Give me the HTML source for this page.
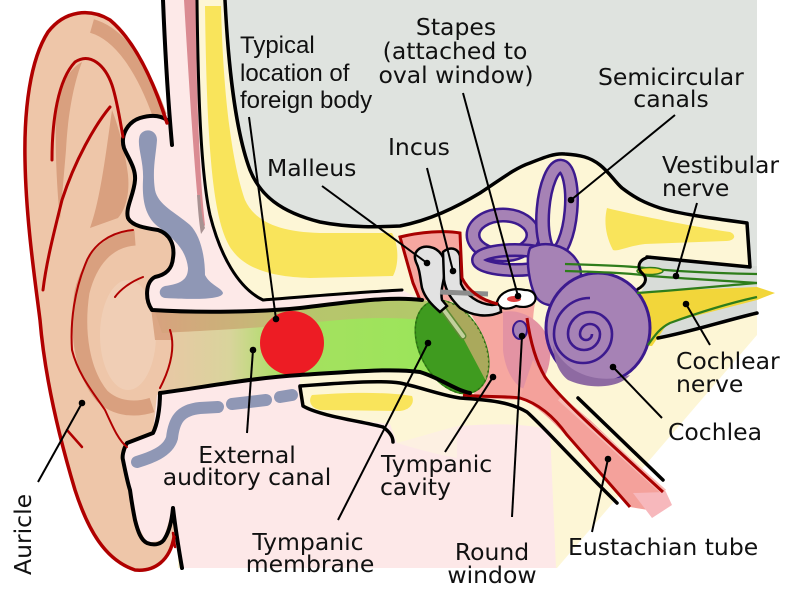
<!DOCTYPE html>
<html><head><meta charset="utf-8"><style>
html,body{margin:0;padding:0;background:#fff}
svg{display:block}
text{font-family:"DejaVu Sans","Liberation Sans",sans-serif;font-size:23.5px;fill:#111}
.s{font-family:"Liberation Sans",Arial,sans-serif;font-size:24px}
</style></head><body>
<svg width="788" height="599" viewBox="0 0 788 599" xmlns="http://www.w3.org/2000/svg">
<defs>
<linearGradient id="cg" gradientUnits="userSpaceOnUse" x1="155" y1="0" x2="430" y2="0">
<stop offset="0" stop-color="#eac6a6"/><stop offset="0.27" stop-color="#d9d49c"/><stop offset="0.47" stop-color="#a6e060"/><stop offset="1" stop-color="#9be55a"/>
</linearGradient>
<linearGradient id="cb" gradientUnits="userSpaceOnUse" x1="155" y1="0" x2="430" y2="0">
<stop offset="0" stop-color="#d7a27e"/><stop offset="0.35" stop-color="#c8b678"/><stop offset="0.55" stop-color="#b7c56c"/><stop offset="1" stop-color="#b2c86a"/>
</linearGradient>
<clipPath id="tm"><ellipse cx="452" cy="347" rx="32" ry="50" transform="rotate(-28 452 347)"/></clipPath>
</defs>

<path d="M178,0 L757,0 L757,335 L557,568 L178,568 Z" fill="#fdf6d6"/>

<path d="M225,0 L757,0 L757,266 L750,266 L747,223 C710,218 680,214 660,208 C645,203 635,198 622,188 C615,182 610,173 600,165 C590,157 580,155 565,154 C555,153 545,157 530,163 C515,168 500,180 480,193 C455,208 430,220 400,226 C380,227 350,228 320,222 C280,212 260,195 250,170 C235,130 228,60 225,0 Z" fill="#dfe3df"/>

<path d="M645,257 L750,266 L757,266 L757,313 L663,338 C652,333 642,318 640,300 C639,292 646,286 645,280 C638,274 636,262 645,257 Z" fill="#d8dcd8"/>

<path d="M205,6 L221,6 C223,90 231,160 245,200 C255,222 280,232 320,233 L392,233 C399,245 399,265 393,276 L310,278 C270,277 245,268 232,250 C214,225 207,160 205,6 Z" fill="#f9e45b"/>
<path d="M607,208 C630,214 690,226 730,232 C737,235 735,241 726,241 L645,244 C628,246 617,252 613,250 C605,235 604,220 607,208 Z" fill="#f9e45b"/>

<path d="M167,123 C158,95 140,45 110,20 C90,8 65,10 48,32 C30,60 24,110 25,160 C26,220 35,280 40,320 C45,380 60,440 75,490 C88,530 105,560 135,570 C155,572 170,560 174,537 L180,537 L180,123 Z" fill="#eec6a9"/>
<path d="M92,26 C120,34 143,68 160,116" fill="none" stroke="#d9a07f" stroke-width="14"/>
<path d="M56,105 C60,85 70,68 82,62 C75,80 68,110 66,150 L60,220 C56,180 55,140 56,105 Z" fill="#d9a07f"/>
<path d="M112,110 C118,125 125,150 128,175 C130,195 125,210 118,218 L90,228 C100,200 105,160 112,110 Z" fill="#d9a07f"/>
<path d="M135,238 C108,240 90,260 82,292 C76,332 82,372 102,396 C117,410 137,410 152,405" fill="none" stroke="#d9a07f" stroke-width="15"/>
<ellipse cx="128" cy="335" rx="28" ry="55" fill="#f0ceb5"/>
<path d="M150,300 L178,300 L178,340 L155,340 Z" fill="#dba684"/>

<path d="M163,0 L197,0 C198,80 200,170 210,215 C220,255 238,288 263,300 L400,289 L420,299 L300,308 L155,312 C145,300 145,282 155,277 C165,275 172,270 173,258 C175,245 170,234 158,230 C145,228 132,226 128,218 C125,208 134,195 135,180 C136,168 128,158 124,148 C120,135 128,122 140,118 C150,115 160,115 167,120 L163,0 Z" fill="#fde9e8"/>
<path d="M184,0 L196,0 C196,80 199,170 205,225 L201,232 C195,180 190,100 184,0 Z" fill="#da8b92"/>
<path d="M200,195 C201,210 203,222 205,228 L201,234 C199,222 198,210 197,195 Z" fill="#a89292"/>
<path d="M140,135 C145,127 157,130 157,140 C156,155 152,170 155,190 C158,205 175,212 190,225 C200,235 205,255 205,275 C210,285 222,288 223,293 C222,299 200,300 165,298 C158,297 158,288 165,286 C180,284 188,280 188,268 C186,250 175,240 160,228 C145,218 142,200 143,180 C144,160 136,145 140,135 Z" fill="#8f97b5"/>

<path d="M157,395 L160,393 C200,388 250,378 300,375 L300,387 L303,406 C320,416 360,421 390,424 L397,443 C420,440 440,430 460,426 C500,423 530,424 550,430 L556,568 L182,568 L177,537 L173,508 L163,540 L147,543 L135,520 L130,487 L123,457 L127,443 L153,433 Z" fill="#fde8e8"/>
<path d="M397,443 C420,450 440,455 457,458 L457,426 Z" fill="#fdf0e2"/>
<path d="M137,462 C150,458 168,452 172,438 C174,420 180,410 200,408 L218,407 M232,404 L266,400 M280,397 L292,395" fill="none" stroke="#8f97b5" stroke-width="12" stroke-linecap="round"/>
<path d="M312,395 C340,393 380,391 412,396 C415,403 410,410 400,411 L320,410 C310,408 308,400 312,395 Z" fill="#f9e45b"/>

<path d="M155,312 C200,313 260,312 300,308 C350,302 390,296 420,299 L440,305 L440,375 C400,368 360,371 300,374 C250,378 200,388 160,393 C168,370 174,345 170,330 Z" fill="url(#cg)"/>
<path d="M155,312 C200,313 260,312 300,308 C350,302 390,296 420,299 L440,305 L440,322 C390,315 350,318 300,324 C260,328 200,331 162,333 Z" fill="url(#cb)"/>
<circle cx="292" cy="343" r="32" fill="#ed1c24"/>

<path d="M400,237 C420,232 445,230 460,233 L462,278 C468,290 480,300 498,304 L535,303 C531,325 532,350 545,377 L520,400 L473,398 C478,380 485,360 487,347 C480,330 470,310 462,302 L420,300 Z" fill="#f6a7a0"/>
<path d="M503,312 C520,308 545,320 550,345 C552,365 545,385 530,390 C515,390 505,370 503,350 Z" fill="#e393a3"/>
<path d="M520,398 L533,360 C545,380 560,395 590,420 L666,492 L660,512 L630,507 L567,437 C550,418 535,405 520,398 Z" fill="#f4a19b"/>
<path d="M560,398 C590,425 630,462 664,492" fill="none" stroke="#f7bcb6" stroke-width="6"/>
<path d="M633,493 L666,492 L672,505 L652,518 Z" fill="#f7b8bc"/>

<g fill="none">
<ellipse cx="503" cy="235" rx="30" ry="20" stroke="#3c1a8e" stroke-width="15"/>
<ellipse cx="503" cy="235" rx="30" ry="20" stroke="#a682b5" stroke-width="10"/>
<ellipse cx="557" cy="210" rx="14" ry="44" transform="rotate(5 557 210)" stroke="#3c1a8e" stroke-width="15"/>
<ellipse cx="557" cy="210" rx="14" ry="44" transform="rotate(5 557 210)" stroke="#a682b5" stroke-width="10"/>
<ellipse cx="515" cy="260" rx="37" ry="10" stroke="#3c1a8e" stroke-width="14"/>
<ellipse cx="515" cy="260" rx="37" ry="10" stroke="#a682b5" stroke-width="9"/>
</g>
<path d="M530,248 C545,240 565,245 575,258 C585,270 582,290 570,300 C555,310 540,305 535,295 C530,285 525,260 530,248 Z" fill="#a682b5" stroke="#3c1a8e" stroke-width="2.5"/>

<path d="M632,292 L757,287 L775,293 L757,300 L668,323 L652,346 L628,345 Z" fill="#f2d63a"/>
<ellipse cx="598" cy="328" rx="52" ry="55" fill="#a682b5" stroke="#3c1a8e" stroke-width="3"/>
<path d="M553,345 C565,375 600,385 630,375 C620,388 590,390 568,380 C558,372 554,360 553,345 Z" fill="#8e6aa2"/>
<path d="M592,334 A6,6 0 1 1 580,334 A10,10 0 1 1 600,334 A16,16 0 1 1 568,334 A22,22 0 1 1 612,334 A29,29 0 1 1 554,334 A36,36 0 0 1 590,298" fill="none" stroke="#3c1a8e" stroke-width="2.6"/>
<ellipse cx="520" cy="330" rx="7" ry="9" fill="#a682b5" stroke="#3c1a8e" stroke-width="2"/>

<g fill="none" stroke="#2e7d1b" stroke-width="2.2">
<path d="M565,264 C600,265 630,266 645,268 C660,270 700,273 757,274"/>
<path d="M565,271 C600,272 630,273 650,276 C690,279 730,281 757,283"/>
<path d="M637,293 C680,290 720,286 757,283"/>
<path d="M648,345 C655,335 660,328 670,323 C700,312 730,303 757,297"/>
</g>
<ellipse cx="650" cy="271" rx="13" ry="3.5" fill="#f2d63a" stroke="#2e7d1b" stroke-width="1.5"/>

<ellipse cx="452" cy="347" rx="32" ry="50" transform="rotate(-28 452 347)" fill="#3f9b1f" stroke="#2f8a15" stroke-width="1.5"/>
<g clip-path="url(#tm)"><rect x="466" y="280" width="60" height="140" fill="#aaa95c" transform="rotate(-28 452 347)"/></g>
<ellipse cx="452" cy="347" rx="32" ry="50" transform="rotate(-28 452 347)" fill="none" stroke="#2f6a15" stroke-width="1.5" stroke-dasharray="2 3"/>

<path d="M438,302 L463,336" stroke="#5f8a35" stroke-width="7" stroke-linecap="round"/>
<path d="M438,302 L463,336" stroke="#c2d09c" stroke-width="4" stroke-linecap="round"/>
<path d="M416,262 C412,252 420,245 430,247 C440,249 446,258 445,270 C444,282 440,290 442,300 L447,306 L440,312 C432,305 425,298 422,288 C420,278 420,270 416,262 Z" fill="#e2e2e2" stroke="#000" stroke-width="2.5"/>
<path d="M443,252 C450,246 458,248 460,256 L461,284 C466,295 478,304 492,305 L500,304 L501,312 C488,318 472,316 460,308 C452,300 446,292 444,280 Z" fill="#e2e2e2" stroke="#000" stroke-width="2.5"/>
<path d="M440,292 L488,294" stroke="#8c8c8c" stroke-width="5"/>
<path d="M497,302 C500,292 512,287 525,290 C533,290 537,295 535,301 C532,307 524,308 516,306 C508,310 500,310 497,302 Z" fill="#fff" stroke="#000" stroke-width="2.2"/>
<ellipse cx="514" cy="299" rx="7" ry="3" fill="#e04040"/>

<g fill="none" stroke="#a80000" stroke-width="3">
<path d="M420,300 L413,283 L400,237 C420,232 445,230 460,233 L462,278 C468,290 480,300 498,304"/>
<path d="M527,318 C530,340 535,360 545,377 C560,398 590,425 663,492"/>
<path d="M463,395 C480,397 505,396 520,398 C540,404 555,418 567,435 L630,507"/>
</g>

<g fill="none" stroke="#000" stroke-linecap="round" stroke-linejoin="round">
<path d="M225,0 C228,60 235,130 250,170 C260,195 280,212 320,222 C350,228 380,227 400,226 C430,220 455,208 480,193 C500,180 515,168 530,163 C545,157 555,153 565,154 C580,155 590,157 600,165 C610,173 615,182 622,188 C635,198 645,203 660,208 C680,214 710,218 747,223 L750,267 L647,257" stroke-width="3.5"/>
<path d="M650,257 C638,259 636,268 643,274 C648,279 645,285 638,289" stroke-width="3"/>
<path d="M658,338 C690,332 720,322 757,313" stroke-width="3.5"/>
<path d="M163,0 C165,50 168,100 172,145" stroke-width="4"/>
<path d="M197,0 C198,80 200,170 210,215 C220,255 238,288 263,300 C300,297 360,292 402,290" stroke-width="3"/>
<path d="M167,120 C160,115 150,115 140,118 C128,122 120,135 124,148 C128,158 136,168 135,180 C134,195 125,208 128,218 C132,226 145,228 158,230 C170,234 175,245 173,258 C172,270 165,275 155,277 C145,282 145,300 152,310 C200,313 260,312 300,308 C350,302 390,296 422,300" stroke-width="4"/>
<path d="M160,393 C200,388 250,378 300,375 C350,372 390,368 420,372 C440,378 455,390 470,393" stroke-width="4"/>
<path d="M300,386 C340,383 380,380 400,383 C420,387 440,395 460,398 C490,400 510,402 527,412 C545,428 565,452 617,503" stroke-width="3.5"/>
<path d="M300,387 L303,406 C320,416 360,421 383,427 C390,432 393,437 393,442" stroke-width="3.5"/>
<path d="M578,398 L663,480" stroke-width="3.5"/>
<path d="M160,393 C160,410 157,425 153,433 L127,443 C123,450 122,457 123,460 C126,475 129,487 130,490 C132,505 134,515 135,520 C138,532 141,540 147,543 C155,546 162,544 165,538 C170,530 172,518 173,508 C175,525 178,545 182,568" stroke-width="4"/>
</g>

<g fill="none" stroke="#b00000" stroke-linecap="round">
<path d="M167,123 C158,95 140,45 110,20 C90,8 65,10 48,32 C30,60 24,110 25,160 C26,220 35,280 40,320 C45,380 60,440 75,490 C88,530 105,560 135,570 C155,572 170,560 174,537" stroke-width="3.5"/>
<path d="M52,160 C52,120 58,80 75,62 C90,52 105,65 112,85 C117,100 120,120 123,137" stroke-width="3"/>
<path d="M110,107 C95,125 75,160 62,200 C52,240 46,265 43,290" stroke-width="3"/>
<path d="M133,230 C110,232 92,245 85,265 C75,290 70,320 72,350 C78,375 95,395 105,410 C112,425 118,440 127,447" stroke-width="2"/>
<path d="M143,277 C130,282 120,290 115,297" stroke-width="2"/>
<path d="M170,330 C175,345 172,365 160,388" stroke-width="2"/>
<path d="M67,430 L82,447" stroke-width="2.5"/>
<path d="M173,533 L175,547" stroke-width="2.5"/>
</g>

<g stroke="#000" stroke-width="2" fill="none">
<path d="M249,117 L276,319"/>
<path d="M322,186 L427,263"/>
<path d="M427,168 L453,271"/>
<path d="M463,93 L518,296"/>
<path d="M675,115 L571,200"/>
<path d="M697,203 L676,276"/>
<path d="M710,345 L686,304"/>
<path d="M662,418 L613,367"/>
<path d="M592,532 L608,459"/>
<path d="M512,517 L522,336"/>
<path d="M445,452 L493,377"/>
<path d="M338,520 L428,343"/>
<path d="M247,433 L253,350"/>
<path d="M38,482 L82,403"/>
</g>
<g fill="#000">
<circle cx="276" cy="319" r="3.3"/><circle cx="427" cy="263" r="3.3"/><circle cx="453" cy="271" r="3.3"/>
<circle cx="518" cy="296" r="3.3"/><circle cx="571" cy="200" r="3.3"/><circle cx="676" cy="276" r="3.3"/>
<circle cx="686" cy="304" r="3.3"/><circle cx="613" cy="367" r="3.3"/><circle cx="608" cy="459" r="3.3"/>
<circle cx="522" cy="336" r="3.3"/><circle cx="493" cy="377" r="3.3"/><circle cx="428" cy="343" r="3.3"/>
<circle cx="253" cy="350" r="3.3"/><circle cx="82" cy="403" r="3.3"/>
</g>

<text class="s" x="240" y="53">Typical</text>
<text class="s" x="240" y="81">location of</text>
<text class="s" x="240" y="108">foreign body</text>
<text x="456" y="35" text-anchor="middle">Stapes</text>
<text x="455" y="59" text-anchor="middle">(attached to</text>
<text x="456" y="83" text-anchor="middle">oval window)</text>
<text x="598" y="85">Semicircular</text>
<text x="671" y="107" text-anchor="middle">canals</text>
<text x="388" y="155">Incus</text>
<text x="267" y="176">Malleus</text>
<text x="662" y="173">Vestibular</text>
<text x="662" y="196">nerve</text>
<text x="676" y="369">Cochlear</text>
<text x="676" y="392">nerve</text>
<text x="668" y="440">Cochlea</text>
<text x="568" y="555">Eustachian tube</text>
<text x="492" y="560" text-anchor="middle">Round</text>
<text x="492" y="583" text-anchor="middle">window</text>
<text x="381" y="472">Tympanic</text>
<text x="380" y="495">cavity</text>
<text x="247" y="463" text-anchor="middle">External</text>
<text x="247" y="485" text-anchor="middle">auditory canal</text>
<text x="308" y="550" text-anchor="middle">Tympanic</text>
<text x="310" y="572" text-anchor="middle">membrane</text>
<text transform="translate(31,575) rotate(-90)">Auricle</text>
</svg>
</body></html>
